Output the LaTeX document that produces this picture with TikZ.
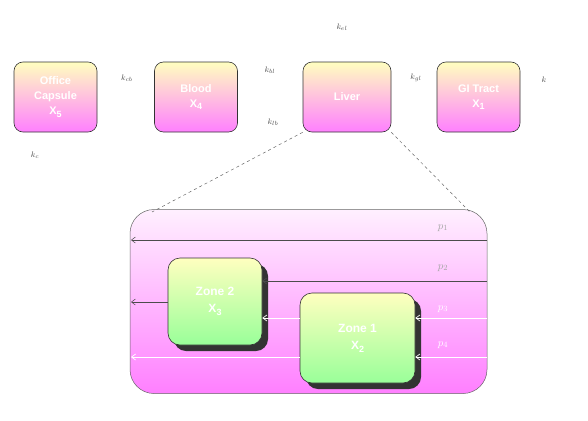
\documentclass[tikz,border=0pt]{standalone}
\usepackage{fontspec}
\setmainfont{Liberation Sans}
\usetikzlibrary{shadows,arrows.meta}
\newcommand{\xsub}[1]{X\raisebox{-0.45ex}{\fontsize{9}{9}\selectfont #1}}
\begin{document}
\begin{tikzpicture}[x=1pt,y=-1pt,
  organ/.style={draw=black!80, line width=0.6pt, rounded corners=9pt,
    top color=yellow!25, bottom color=magenta!50, minimum width=83pt,
    minimum height=70pt, text=white, font=\bfseries\fontsize{11}{15}\selectfont,
    align=center, inner sep=1pt},
  zone/.style={draw=black!80, line width=0.6pt, rounded corners=12pt,
    top color=yellow!25, bottom color=green!40, text=white,
    font=\bfseries\fontsize{12}{17}\selectfont, align=center,
    drop shadow={shadow xshift=6pt, shadow yshift=-6pt, fill=black!80, opacity=1}},
  klab/.style={text=black!70, font=\fontsize{8}{9}\selectfont},
  plab/.style={text=white, font=\fontsize{11}{12}\selectfont},
  darkflow/.style={draw=black!70, line width=0.5pt, -{Straight Barb[length=4pt,width=6pt]}},
  lightflow/.style={draw=white, line width=0.7pt, -{Straight Barb[length=4pt,width=6pt]}},
  zoomline/.style={draw=black!60, dashed, line width=0.5pt}]
\useasboundingbox (0,0) rectangle (588,420);
% top row
\node[organ] (caps) at (55.5,97) {Office\\Capsule\\\xsub{5}};
\node[organ] (blood) at (196,97) {Blood\\\xsub{4}};
\node[organ, minimum width=88pt] (liver) at (347,97) {Liver};
\node[organ] (gi) at (478.5,97) {GI Tract\\\xsub{1}};
% rate labels
\node[klab] (k1) at (127,78) {$k_{cb}$};
\node[klab] (k2) at (270,70) {$k_{bl}$};
\node[klab] (k3) at (273,122) {$k_{lb}$};
\node[klab] (k4) at (342,27) {$k_{el}$};
\node[klab] (k5) at (416,78) {$k_{gl}$};
\node[klab] (k6) at (544,80) {$k$};
\node[klab] (k7) at (35,155) {$k_c$};
% container
\node[draw=black!60, line width=0.5pt, rounded corners=24pt,
  top color=magenta!6, bottom color=magenta!50,
  minimum width=357pt, minimum height=184pt] (cont) at (308.5,301.5) {};
\coordinate (tl) at (152,212);
\coordinate (tr) at (470,212);
\draw[zoomline] (liver.south west) -- (tl);
\draw[zoomline] (liver.south east) -- (tr);
% zones
\node[zone, minimum width=94pt, minimum height=87pt] (z2) at (215,301.5) {Zone 2\\\xsub{3}};
\node[zone, minimum width=115pt, minimum height=90pt] (z1) at (357.5,338) {Zone 1\\\xsub{2}};
% flow lines
\coordinate (r1) at (487,240); \coordinate (l1) at (131,240);
\coordinate (r2) at (487,281); \coordinate (r3) at (487,318);
\coordinate (r4) at (487,357); \coordinate (l4) at (131,357);
\coordinate (l5) at (131,302);
\draw[darkflow] (r1) -- (l1);
\draw[darkflow] (r2) -- (z2.east |- r2);
\draw[lightflow] (r3) -- (z1.east |- r3);
\draw[lightflow] (z1.west |- r3) -- (z2.east |- r3);
\draw[lightflow] (r4) -- (z1.east |- r4);
\draw[lightflow] (z1.west |- r4) -- (l4);
\draw[darkflow] (z2.west |- l5) -- (l5);
% p labels
\node[plab, text=black!35] (p1) at (443,228) {$p_1$};
\node[plab, text=black!35] (p2) at (443,268) {$p_2$};
\node[plab] (p3) at (443,309) {$p_3$};
\node[plab] (p4) at (443,345) {$p_4$};
\end{tikzpicture}
\end{document}
